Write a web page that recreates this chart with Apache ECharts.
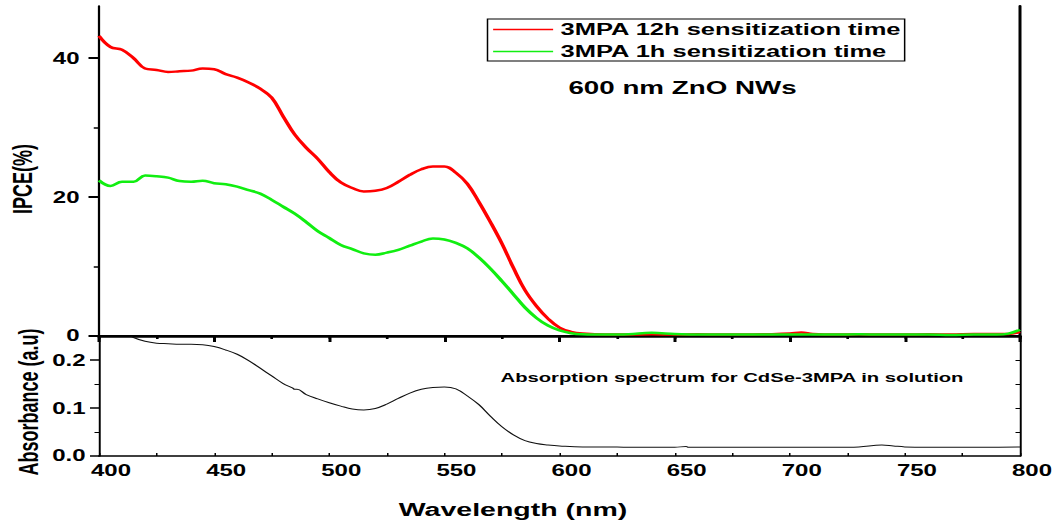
<!DOCTYPE html>
<html>
<head>
<meta charset="utf-8">
<script src="https://cdn.jsdelivr.net/npm/echarts@6/dist/echarts.min.js"></script>
<style>
  html, body { margin: 0; padding: 0; background: #fff; overflow: hidden; }
  /* the reference figure is stretched 1.5x horizontally, so draw narrow and stretch */
  #chart { width: 703px; height: 522px; transform: scaleX(1.5); transform-origin: 0 0; }
</style>
</head>
<body>
<div id="chart"></div>
<script>
// IPCE spectra (top panel)
var ipceWl = [400, 405, 410, 415, 420, 425, 430, 435, 440, 445, 450, 455, 460, 465, 470, 475, 480, 485, 490, 495,
  500, 505, 510, 515, 520, 525, 530, 535, 540, 545, 550, 555, 560, 565, 570, 575, 580, 585, 590, 595,
  600, 605, 610, 620, 630, 640, 650, 660, 670, 680, 690, 700, 705, 710, 720, 730, 740, 750, 760, 770, 780, 790, 795, 800];
var ipce12h = [43.2, 41.6, 41.2, 40.0, 38.5, 38.3, 38.0, 38.1, 38.2, 38.5, 38.4, 37.7, 37.2, 36.5, 35.6, 34.3, 31.6, 29.0, 27.1, 25.5,
  23.6, 22.1, 21.3, 20.8, 20.9, 21.3, 22.2, 23.2, 24.0, 24.4, 24.4, 23.5, 21.9, 19.3, 16.4, 13.3, 9.8, 6.6, 4.3, 2.5,
  1.2, 0.6, 0.35, 0.2, 0.2, 0.25, 0.2, 0.25, 0.2, 0.2, 0.25, 0.35, 0.5, 0.3, 0.2, 0.25, 0.2, 0.2, 0.25, 0.2, 0.3, 0.3, 0.3, 0.6];
var ipce1h = [22.4, 21.6, 22.2, 22.2, 23.1, 23.0, 22.8, 22.3, 22.2, 22.35, 22.0, 21.85, 21.5, 21.0, 20.5, 19.6, 18.6, 17.6, 16.4, 15.1,
  14.1, 13.1, 12.5, 11.9, 11.7, 12.0, 12.4, 13.0, 13.6, 14.05, 13.9, 13.4, 12.6, 11.3, 9.7, 7.9, 6.0, 4.1, 2.6, 1.5,
  0.8, 0.4, 0.25, 0.2, 0.25, 0.45, 0.3, 0.2, 0.2, 0.2, 0.2, 0.2, 0.2, 0.2, 0.2, 0.25, 0.2, 0.2, 0.2, 0.15, 0.2, 0.2, 0.35, 0.9];

// absorption spectrum (bottom panel)
var absWl = [400, 405, 410, 415, 420, 425, 430, 435, 440, 445, 450, 455, 460, 465, 470, 475, 480, 484, 485, 486, 490, 495,
  500, 505, 510, 515, 520, 525, 530, 535, 540, 545, 550, 555, 560, 565, 570, 575, 580, 585, 590, 595,
  600, 610, 620, 630, 640, 650, 655, 656, 660, 680, 700, 720, 730, 740, 745, 750, 770, 800];
var absVal = [0.29, 0.275, 0.26, 0.247, 0.239, 0.235, 0.234, 0.233, 0.233, 0.232, 0.228, 0.221, 0.212, 0.199, 0.183, 0.167, 0.151, 0.142, 0.139, 0.139, 0.128, 0.119,
  0.111, 0.104, 0.098, 0.096, 0.099, 0.108, 0.120, 0.131, 0.139, 0.143, 0.144, 0.140, 0.125, 0.107, 0.083, 0.061, 0.044, 0.032, 0.026, 0.023,
  0.021, 0.019, 0.019, 0.018, 0.018, 0.018, 0.020, 0.018, 0.018, 0.018, 0.018, 0.018, 0.019, 0.023, 0.021, 0.019, 0.018, 0.019];

// tick labels
var wlTicks = [400, 450, 500, 550, 600, 650, 700, 750, 800];
var ipceTicks = [0, 20, 40];
var ipceMinor = [10, 30];
var absTicks = [0, 0.1, 0.2];
var absMinor = [0.05, 0.15];
var absRight = [0.05, 0.1, 0.15, 0.2];

var seriesNames = ['3MPA 12h sensitization time', '3MPA 1h sensitization time'];

function pairs(xs, ys) {
  return xs.map(function (x, i) { return [x, ys[i]]; });
}

var FONT = '"Liberation Sans", Arial, sans-serif';
var black = '#000';

var chartDom = document.getElementById('chart');
var myChart = echarts.init(chartDom, null, { renderer: 'svg' });

var option = {
  animation: false,
  backgroundColor: '#fff',
  textStyle: { fontFamily: FONT },
  grid: [
    { left: 66, right: 23, top: 6, height: 330, outerBoundsMode: 'none' },
    { left: 66, right: 23, top: 337, height: 119, outerBoundsMode: 'none' }
  ],
  legend: {
    orient: 'vertical',
    left: 325,
    top: 19,
    padding: [2, 2, 1, 3],
    itemWidth: 40,
    itemHeight: 14,
    itemGap: 5,
    borderColor: black,
    borderWidth: 1,
    itemStyle: { opacity: 0 },
    lineStyle: { width: 1.5 },
    data: seriesNames,
    textStyle: { fontFamily: FONT, fontSize: 17, fontWeight: 'bold', color: black }
  },
  xAxis: [
    {
      gridIndex: 0, type: 'value', position: 'bottom', min: 400, max: 800, interval: 50,
      axisLine: { lineStyle: { color: black, width: 2.5 } },
      axisTick: { length: 6, lineStyle: { color: black, width: 2 } },
      minorTick: { show: true, splitNumber: 2, length: 3, lineStyle: { color: black, width: 1.5 } },
      axisLabel: { show: false },
      splitLine: { show: false }
    },
    {
      gridIndex: 0, type: 'value', position: 'top', min: 400, max: 800, interval: 25,
      axisLine: { lineStyle: { color: black, width: 2 } },
      axisTick: { inside: true, length: 3, lineStyle: { color: black, width: 1 } },
      axisLabel: { show: false },
      splitLine: { show: false }
    },
    {
      gridIndex: 1, type: 'value', position: 'bottom', min: 400, max: 800, interval: 50,
      axisLine: { lineStyle: { color: black, width: 1.5 } },
      axisTick: { inside: true, length: 3, lineStyle: { color: black, width: 1 } },
      minorTick: { show: true, splitNumber: 2, length: 3, lineStyle: { color: black, width: 1 } },
      axisLabel: {
        customValues: wlTicks, margin: 7, padding: [0, 0, 0, 16],
        color: black, fontFamily: FONT, fontSize: 16, fontWeight: 'bold'
      },
      splitLine: { show: false }
    }
  ],
  yAxis: [
    {
      gridIndex: 0, type: 'value', position: 'left', min: 0, max: 47.5, interval: 20,
      axisLine: { lineStyle: { color: black, width: 1.5 } },
      axisTick: { customValues: ipceTicks, length: 7, lineStyle: { color: black, width: 2 } },
      axisLabel: { customValues: ipceTicks, margin: 13, color: black, fontFamily: FONT, fontSize: 16, fontWeight: 'bold' },
      splitLine: { show: false }
    },
    {
      gridIndex: 0, type: 'value', position: 'left', min: 0, max: 47.5, interval: 10,
      axisLine: { show: false },
      axisTick: { customValues: ipceMinor, length: 3.5, lineStyle: { color: black, width: 1.5 } },
      axisLabel: { show: false },
      splitLine: { show: false }
    },
    {
      gridIndex: 0, type: 'value', position: 'right', min: 0, max: 47.5, interval: 10,
      axisLine: { show: true, lineStyle: { color: black, width: 2 } },
      axisTick: { show: false },
      axisLabel: { show: false },
      splitLine: { show: false }
    },
    {
      gridIndex: 1, type: 'value', position: 'left', min: 0, max: 0.248, interval: 0.1,
      axisLine: { lineStyle: { color: black, width: 1.3 } },
      axisTick: { customValues: absTicks, length: 6, lineStyle: { color: black, width: 1.5 } },
      axisLabel: {
        customValues: absTicks, margin: 9, color: black, fontFamily: FONT, fontSize: 16, fontWeight: 'bold',
        formatter: function (v) { return v.toFixed(1); }
      },
      splitLine: { show: false }
    },
    {
      gridIndex: 1, type: 'value', position: 'left', min: 0, max: 0.248, interval: 0.05,
      axisLine: { show: false },
      axisTick: { customValues: absMinor, length: 3, lineStyle: { color: black, width: 1 } },
      axisLabel: { show: false },
      splitLine: { show: false }
    },
    {
      gridIndex: 1, type: 'value', position: 'right', min: 0, max: 0.248, interval: 0.05,
      axisLine: { show: true, lineStyle: { color: black, width: 1.3 } },
      axisTick: { inside: true, customValues: absRight, length: 3, lineStyle: { color: black, width: 1 } },
      axisLabel: { show: false },
      splitLine: { show: false }
    }
  ],
  series: [
    {
      name: seriesNames[0], type: 'line', xAxisIndex: 0, yAxisIndex: 0,
      smooth: 0.4, symbol: 'none', clip: true,
      lineStyle: { color: '#ff0000', width: 2.5 }, itemStyle: { color: '#ff0000' },
      data: pairs(ipceWl, ipce12h)
    },
    {
      name: seriesNames[1], type: 'line', xAxisIndex: 0, yAxisIndex: 0,
      smooth: 0.4, symbol: 'none', clip: true,
      lineStyle: { color: '#11ee11', width: 2.5 }, itemStyle: { color: '#11ee11' },
      data: pairs(ipceWl, ipce1h)
    },
    {
      name: 'Absorbance', type: 'line', xAxisIndex: 2, yAxisIndex: 3,
      smooth: 0.4, symbol: 'none', clip: true,
      lineStyle: { color: '#111', width: 1 },
      data: pairs(absWl, absVal)
    }
  ],
  graphic: [
    {
      type: 'text', x: 15, y: 179, rotation: Math.PI / 2,
      style: { text: 'IPCE(%)', font: 'bold 18px ' + FONT, fill: black, align: 'center', verticalAlign: 'middle' }
    },
    {
      type: 'text', x: 19, y: 402, rotation: Math.PI / 2,
      style: { text: 'Absorbance (a.u)', font: 'bold 18px ' + FONT, fill: black, align: 'center', verticalAlign: 'middle' }
    },
    {
      type: 'text', x: 342, y: 509,
      style: { text: 'Wavelength (nm)', font: 'bold 19px ' + FONT, fill: black, align: 'center', verticalAlign: 'middle' }
    },
    {
      type: 'text', x: 455, y: 88,
      style: { text: '600 nm ZnO NWs', font: 'bold 18.5px ' + FONT, fill: black, align: 'center', verticalAlign: 'middle' }
    },
    {
      type: 'text', x: 488, y: 377,
      style: { text: 'Absorption spectrum for CdSe-3MPA in solution', font: 'bold 13.5px ' + FONT, fill: black, align: 'center', verticalAlign: 'middle' }
    }
  ]
};

option && myChart.setOption(option);
</script>
</body>
</html>
